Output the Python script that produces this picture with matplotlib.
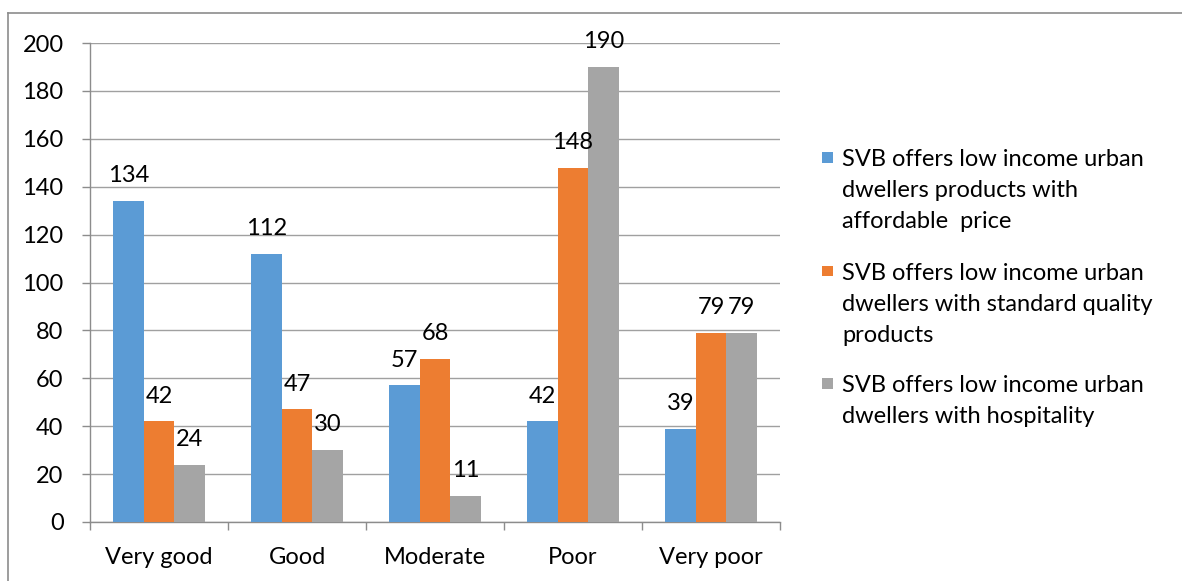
import numpy as np
import matplotlib
matplotlib.use('Agg')
import matplotlib.pyplot as plt
from matplotlib.lines import Line2D
from matplotlib.patches import Rectangle

plt.rcParams['font.family'] = ['Lato', 'DejaVu Sans']

# data
categories = ['Very good', 'Good', 'Moderate', 'Poor', 'Very poor']
price = [134, 112, 57, 42, 39]
quality = [42, 47, 68, 148, 79]
hospitality = [24, 30, 11, 190, 79]
series_names = ['SVB offers low income urban\ndwellers products with\naffordable  price',
                'SVB offers low income urban\ndwellers with standard quality\nproducts',
                'SVB offers low income urban\ndwellers with hospitality']
colors = ['#5B9BD5', '#ED7D31', '#A5A5A5']
y_ticks = [0, 20, 40, 60, 80, 100, 120, 140, 160, 180, 200]

W, H = 1182, 581
fig = plt.figure(figsize=(W / 100, H / 100), dpi=100)
ax = fig.add_axes([90 / W, 1 - 522 / H, 690 / W, 479 / H])

x = np.arange(len(categories))
bw = 0.222
fs = 17
for i, vals in enumerate([price, quality, hospitality]):
    bars = ax.bar(x + (i - 1) * bw, vals, width=bw, color=colors[i], zorder=3)
    for b, v in zip(bars, vals):
        ax.annotate(str(v), (b.get_x() + b.get_width() / 2, v),
                    xytext=(0, 13.5), textcoords='offset points',
                    ha='center', va='baseline', fontsize=fs, zorder=4)

ax.set_xlim(-0.5, len(categories) - 0.5)
ax.set_ylim(0, 200)
ax.set_yticks(y_ticks)
ax.set_xticks(x)
ax.set_xticklabels(categories)
ax.set_xticks(np.arange(len(categories) + 1) - 0.5, minor=True)

gc = '#a0a0a0'
ax.grid(axis='y', color=gc, linewidth=1.0, zorder=0)
for s in ['top', 'right']:
    ax.spines[s].set_visible(False)
for s in ['left', 'bottom']:
    ax.spines[s].set_color('#8c8c8c')
    ax.spines[s].set_linewidth(1.0)
ax.tick_params(axis='y', length=6, width=1.0, color='#8c8c8c', labelsize=fs, pad=13)
ax.tick_params(axis='x', which='major', length=0, labelsize=fs, pad=18)
ax.tick_params(axis='x', which='minor', length=6, width=1.0, color='#8c8c8c')

# legend drawn by hand: square aligned with the first line of each entry
entry_top = [157, 271, 383]
line_step = 31.5
for name, c, y0 in zip(series_names, colors, entry_top):
    fig.add_artist(Rectangle((822 / W, 1 - (y0 + 5.5) / H), 10.5 / W, 10.5 / H,
                             facecolor=c, edgecolor='none', transform=fig.transFigure))
    for k, line in enumerate(name.split('\n')):
        fig.text(842 / W, 1 - (y0 + k * line_step) / H, line, fontsize=fs,
                 ha='left', va='center_baseline')

# outer chart border (cropped at right/bottom)
fig.add_artist(Line2D([7.5 / W, 7.5 / W], [0, 1 - 13 / H], color='#8c8c8c', linewidth=1.2))
fig.add_artist(Line2D([7.5 / W, 1], [1 - 13 / H, 1 - 13 / H], color='#8c8c8c', linewidth=1.2))

fig.savefig('out.png', dpi=100)
